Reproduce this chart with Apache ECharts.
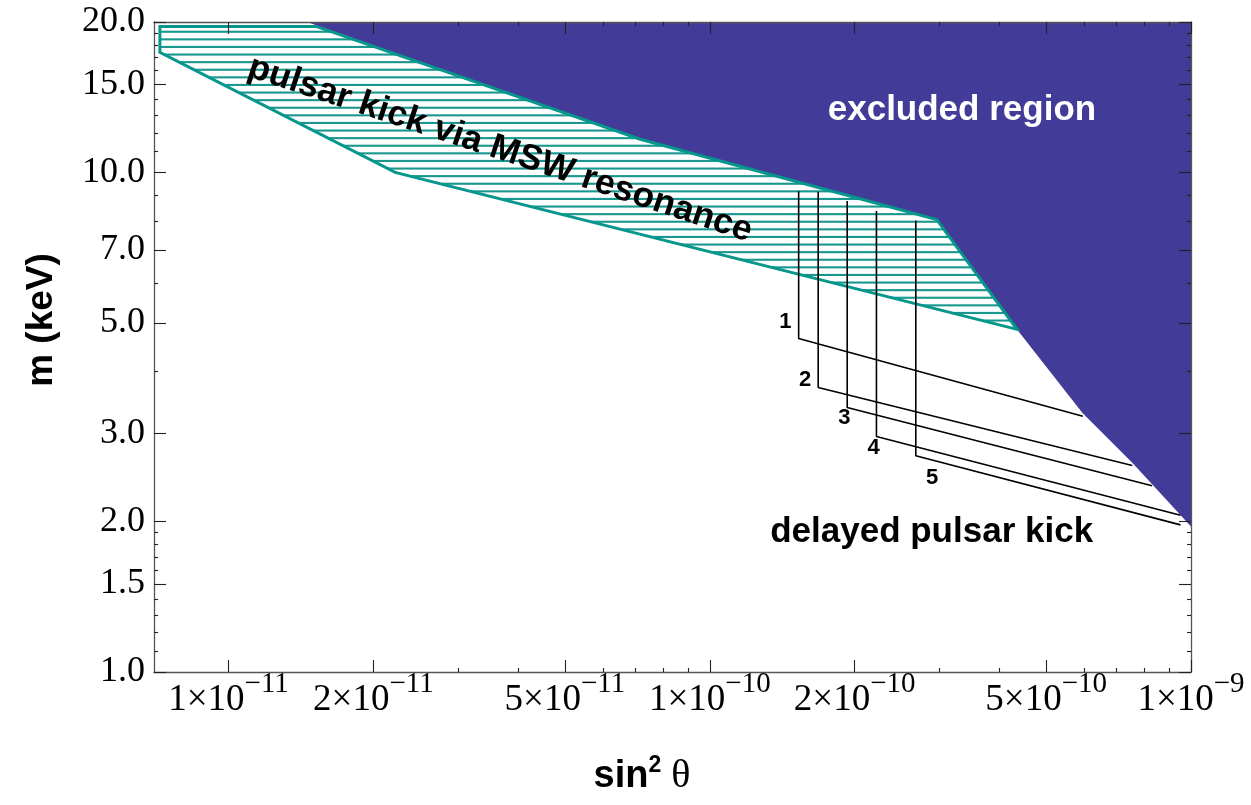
<!DOCTYPE html>
<html><head><meta charset="utf-8">
<script src="https://cdn.jsdelivr.net/npm/echarts@6/dist/echarts.min.js"></script>
<style>html,body{margin:0;padding:0;background:#fff}#c{width:1251px;height:805px}</style>
</head><body><div id="c"></div>
<script>
// ---------- data (raw values: sin^2 theta, m in keV) ----------
const xRange = [7e-12, 1e-9];
const yRange = [1, 20];
const xMajorTicks = [1e-11, 2e-11, 5e-11, 1e-10, 2e-10, 5e-10, 1e-9];
const xMinorTicks = [3e-11, 4e-11, 6e-11, 7e-11, 8e-11, 9e-11, 3e-10, 4e-10, 6e-10, 7e-10, 8e-10, 9e-10];
const yMajorTicks = [1, 1.5, 2, 3, 5, 7, 10, 15, 20];
const yMinorTicks = [1.1, 1.2, 1.3, 1.4, 1.6, 1.7, 1.8, 1.9, 4, 6, 8, 9, 11, 12, 13, 14, 16, 17, 18, 19];

// excluded region boundary
const excludedX = [1.456e-11, 7.17e-11, 2.96e-10, 4.35e-10, 5.95e-10, 7.56e-10, 1.0e-9, 1.0e-9];
const excludedM = [20, 11.65, 8.05, 4.85, 3.30, 2.62, 1.955, 20];

// pulsar kick via MSW resonance region
const mswX = [7.2e-12, 1.52e-11, 7.17e-11, 2.96e-10, 4.35e-10, 2.22e-11, 7.2e-12];
const mswM = [19.6, 19.6, 11.65, 8.05, 4.85, 10.0, 17.4];

// delayed pulsar kick curves 1..5
const delayedNames = ['1', '2', '3', '4', '5'];
const delayedTopX = [1.53e-10, 1.68e-10, 1.93e-10, 2.22e-10, 2.68e-10];
const delayedTopM = [9.17, 9.15, 8.76, 8.37, 8.01];
const delayedCornerM = [4.65, 3.71, 3.385, 2.96, 2.71];
const delayedEndX = [5.96e-10, 7.55e-10, 8.30e-10, 9.51e-10, 9.51e-10];
const delayedEndM = [3.25, 2.59, 2.36, 2.06, 1.97];
const delayedLabelX = [1.436e-10, 1.579e-10, 1.904e-10, 2.19e-10, 2.897e-10];
const delayedLabelM = [5.03, 3.84, 3.22, 2.81, 2.445];

// region annotations
const regionTexts = ['excluded region', 'delayed pulsar kick', 'pulsar kick via MSW resonance'];
const regionTextX = [3.342e-10, 2.891e-10, 3.667e-11];
const regionTextM = [13.31, 1.90, 11.12];

// ---------- styles ----------
const L = Math.log10;
const BLUE = '#423c98';
const TEAL = '#05968c';
const SANS = 'Liberation Sans';
const SERIF = 'Liberation Serif';

function makeHatch() {
  const c = document.createElement('canvas');
  c.width = 32; c.height = 38;
  const g = c.getContext('2d');
  g.fillStyle = 'rgba(0,140,130,0.9)';
  for (let k = 0; k < 5; k++) g.fillRect(0, k * 7.6 + 0.3, 32, 2.1);
  return c;
}
const hatch = makeHatch();

const regionLabelStyles = [
  { color: '#ffffff', fontSize: 35, rotateDeg: 0 },
  { color: '#000000', fontSize: 35, rotateDeg: 0 },
  { color: '#000000', fontSize: 35.5, rotateDeg: -18.3 }
];

function xAxisCfg(pos, ticks, len, showLine, showLabel) {
  return {
    type: 'value', position: pos, min: L(xRange[0]), max: L(xRange[1]), z: 10,
    axisLine: { show: showLine, onZero: false, lineStyle: { color: '#555', width: 1.3 } },
    axisTick: { show: true, inside: true, length: len, customValues: ticks.map(L), lineStyle: { color: '#222', width: 1.1 } },
    axisLabel: showLabel ? {
      show: true, customValues: ticks.map(L), margin: -2,
      formatter: function (v) {
        const e = Math.floor(v + 1e-6);
        const mant = Math.round(Math.pow(10, v - e));
        return '{m|' + mant + '×10}{s|−' + Math.abs(e) + '}';
      },
      rich: {
        m: { fontFamily: SERIF, fontSize: 37, color: '#000', lineHeight: 49, verticalAlign: 'bottom' },
        s: { fontFamily: SERIF, fontSize: 29, color: '#000', lineHeight: 28, verticalAlign: 'top' }
      }
    } : { show: false },
    splitLine: { show: false }
  };
}
function yAxisCfg(pos, ticks, len, showLine, showLabel) {
  return {
    type: 'value', position: pos, min: L(yRange[0]), max: L(yRange[1]), z: 10,
    axisLine: { show: showLine, onZero: false, lineStyle: { color: '#555', width: 1.3 } },
    axisTick: { show: true, inside: true, length: len, customValues: ticks.map(L), lineStyle: { color: '#222', width: 1.1 } },
    axisLabel: showLabel ? {
      show: true, customValues: ticks.map(L), margin: 9,
      fontFamily: SERIF, fontSize: 36, color: '#000',
      formatter: function (v) { return Math.pow(10, v).toFixed(1); }
    } : { show: false },
    splitLine: { show: false }
  };
}

const series = [];
series.push({
  type: 'custom', name: 'excluded region', coordinateSystem: 'cartesian2d', clip: true, z: 2,
  data: excludedX.map((x, i) => [L(x), L(excludedM[i])]),
  renderItem: function (params, api) {
    if (params.dataIndex !== 0) return null;
    const pts = excludedX.map((x, i) => api.coord([L(x), L(excludedM[i])]));
    return { type: 'polygon', shape: { points: pts }, style: { fill: BLUE, stroke: null } };
  }
});
series.push({
  type: 'custom', name: 'MSW', coordinateSystem: 'cartesian2d', clip: true, z: 3,
  data: mswX.map((x, i) => [L(x), L(mswM[i])]),
  renderItem: function (params, api) {
    if (params.dataIndex !== 0) return null;
    const pts = mswX.map((x, i) => api.coord([L(x), L(mswM[i])]));
    return { type: 'polygon', shape: { points: pts },
      style: { fill: { image: hatch, repeat: 'repeat' }, stroke: TEAL, lineWidth: 3, lineJoin: 'miter' } };
  }
});
delayedNames.forEach((n, i) => {
  series.push({
    type: 'line', name: 'delayed ' + n, symbol: 'none', z: 4, animation: false,
    lineStyle: { color: '#000', width: 1.6 },
    data: [[L(delayedTopX[i]), L(delayedTopM[i])], [L(delayedTopX[i]), L(delayedCornerM[i])], [L(delayedEndX[i]), L(delayedEndM[i])]]
  });
});
series.push({
  type: 'custom', name: 'curve labels', coordinateSystem: 'cartesian2d', z: 5,
  data: delayedNames.map((n, i) => [L(delayedLabelX[i]), L(delayedLabelM[i])]),
  renderItem: function (params, api) {
    const p = api.coord([api.value(0), api.value(1)]);
    return { type: 'text', x: p[0], y: p[1],
      style: { text: delayedNames[params.dataIndex], fill: '#000', fontFamily: SANS, fontWeight: 'bold', fontSize: 22,
        align: 'center', verticalAlign: 'middle' } };
  }
});
series.push({
  type: 'custom', name: 'region labels', coordinateSystem: 'cartesian2d', z: 6,
  data: regionTexts.map((t, i) => [L(regionTextX[i]), L(regionTextM[i])]),
  renderItem: function (params, api) {
    const i = params.dataIndex;
    const p = api.coord([api.value(0), api.value(1)]);
    const st = regionLabelStyles[i];
    return { type: 'text', x: p[0], y: p[1], rotation: st.rotateDeg * Math.PI / 180,
      style: { text: regionTexts[i], fill: st.color, fontFamily: SANS, fontWeight: 'bold', fontSize: st.fontSize,
        align: 'center', verticalAlign: 'middle' } };
  }
});

const option = {
  animation: false,
  backgroundColor: '#fff',
  grid: { left: 154, top: 22, right: 60, bottom: 133, containLabel: false, outerBoundsMode: 'none' },
  xAxis: [
    xAxisCfg('bottom', xMajorTicks, 12, true, true),
    xAxisCfg('bottom', xMinorTicks, 4, false, false),
    xAxisCfg('top', xMajorTicks, 12, true, false),
    xAxisCfg('top', xMinorTicks, 4, false, false)
  ],
  yAxis: [
    yAxisCfg('left', yMajorTicks, 12, true, true),
    yAxisCfg('left', yMinorTicks, 4, false, false),
    yAxisCfg('right', yMajorTicks, 12, true, false),
    yAxisCfg('right', yMinorTicks, 4, false, false)
  ],
  series: series,
  graphic: [
    { type: 'text', x: 42, y: 320, rotation: Math.PI / 2,
      style: { text: 'm (keV)', fontFamily: SANS, fontWeight: 'bold', fontSize: 37, fill: '#000', align: 'center', verticalAlign: 'middle' } },
    { type: 'text', x: 642, y: 775,
      style: { text: '{b|sin}{s|2}{t| θ}', align: 'center', verticalAlign: 'middle',
        rich: {
          b: { fontFamily: SANS, fontWeight: 'bold', fontSize: 38, fill: '#000', lineHeight: 42, verticalAlign: 'bottom' },
          s: { fontFamily: SANS, fontWeight: 'bold', fontSize: 23, fill: '#000', lineHeight: 25, verticalAlign: 'top' },
          t: { fontFamily: SERIF, fontSize: 40, fill: '#000', lineHeight: 42, verticalAlign: 'bottom' }
        } } }
  ]
};
const chart = echarts.init(document.getElementById('c'), null, { renderer: 'canvas' });
chart.setOption(option);
</script>
</body></html>
